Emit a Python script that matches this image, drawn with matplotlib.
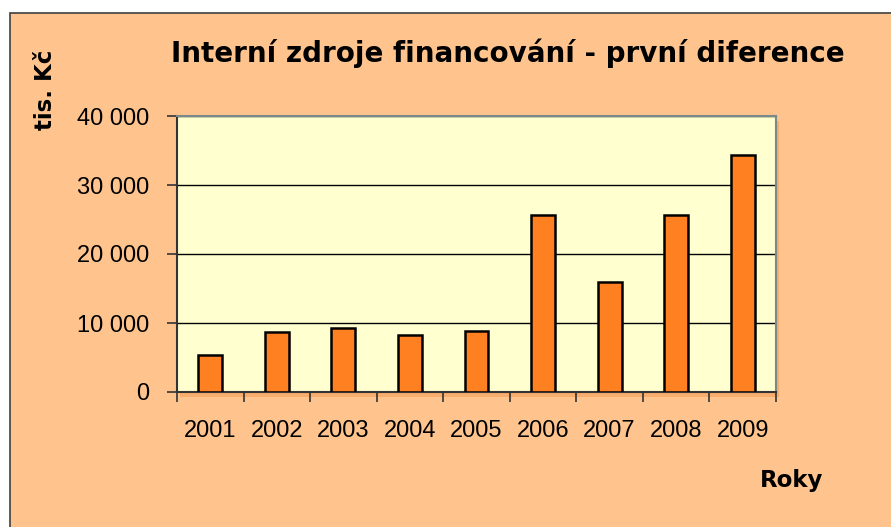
import matplotlib.pyplot as plt
from matplotlib.patches import Rectangle
from matplotlib.ticker import FuncFormatter, FixedLocator

years = ['2001', '2002', '2003', '2004', '2005', '2006', '2007', '2008', '2009']
values = [5400, 8700, 9300, 8300, 8900, 25700, 16000, 25700, 34300]
y_ticks = [0, 10000, 20000, 30000, 40000]

plt.rcParams['font.family'] = ['Liberation Sans', 'DejaVu Sans']

W, H = 891, 527
fig = plt.figure(figsize=(W / 100, H / 100), dpi=100, facecolor='white')

# chart area background with border
bg = Rectangle((10 / W, -0.01), 1, (H - 13) / H + 0.01, transform=fig.transFigure,
               facecolor='#FFC48E', edgecolor='#404040', linewidth=1.2, zorder=-2)
fig.patches.append(bg)

left, right, bottom, top = 177 / W, 776 / W, (H - 392) / H, (H - 116) / H
# soft shadow under plot area
shadow = Rectangle((left + 3 / W, bottom - 5 / H), right - left, top - bottom,
                   transform=fig.transFigure, facecolor='#F5A865', edgecolor='none',
                   alpha=0.8, zorder=-1)
fig.patches.append(shadow)

ax = fig.add_axes([left, bottom, right - left, top - bottom])
ax.set_zorder(1)
ax.set_facecolor('#FFFFD0')

x = range(len(years))
ax.bar(x, values, width=0.36, color='#FF8020', edgecolor='black', linewidth=1.8, zorder=3)

ax.set_xlim(-0.5, len(years) - 0.5)
ax.set_ylim(0, 40000)
ax.set_yticks(y_ticks)
ax.yaxis.set_major_formatter(FuncFormatter(lambda v, p: f'{int(v):,}'.replace(',', ' ')))
ax.yaxis.grid(True, color='black', linewidth=1.0, zorder=1)
ax.set_axisbelow(True)

ax.set_xticks(list(x))
ax.set_xticklabels(years)
ax.xaxis.set_minor_locator(FixedLocator([i - 0.5 for i in range(len(years) + 1)]))
ax.tick_params(axis='x', which='major', length=0, pad=20, labelsize=17)
ax.tick_params(axis='x', which='minor', length=7, width=1.2, color='#333333', direction='out')
ax.tick_params(axis='y', length=7, width=1.2, color='#333333', direction='out', pad=13,
               labelsize=17)

for s in ['top', 'right']:
    ax.spines[s].set_color('#7A8A8A')
    ax.spines[s].set_linewidth(1.5)
ax.spines['left'].set_color('#333333')
ax.spines['bottom'].set_color('#333333')
ax.spines['left'].set_linewidth(1.5)
ax.spines['bottom'].set_linewidth(1.5)

fig.text(508 / W, 1 - 53 / H, 'Interní zdroje financování - první diference',
         ha='center', va='center', fontsize=20, fontweight='bold', family='DejaVu Sans')
fig.text(46 / W, 1 - 90 / H, 'tis. Kč', rotation=90, ha='center', va='center',
         fontsize=16.5, fontweight='bold', family='DejaVu Sans')
fig.text(792 / W, 1 - 480 / H, 'Roky', ha='center', va='center',
         fontsize=16.5, fontweight='bold', family='DejaVu Sans')

fig.savefig('out.png', dpi=100, facecolor=fig.get_facecolor())
